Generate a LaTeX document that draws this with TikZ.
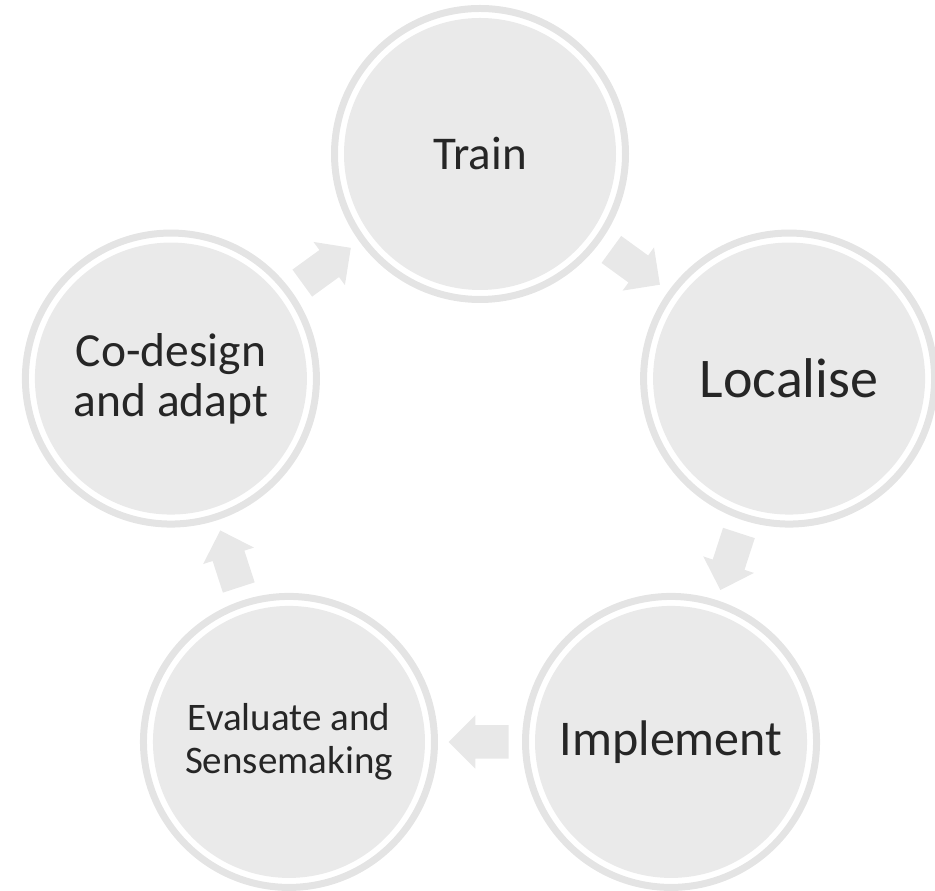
\documentclass[tikz,border=0pt]{standalone}
\usepackage{fontspec}
\setmainfont{Carlito}
\usepackage{tikz}
\usetikzlibrary{calc,shapes.arrows}
\definecolor{stagefill}{HTML}{EAEAEA}
\definecolor{ringgray}{HTML}{E4E4E4}
\definecolor{flowgray}{HTML}{E8E8E8}
\definecolor{labelgray}{HTML}{262626}

\begin{document}
\begin{tikzpicture}[x=1pt, y=1pt,
    stage/.style={circle, fill=stagefill, minimum size=272pt, inner sep=0pt,
      align=center, text=labelgray},
    ring/.style={draw=ringgray, line width=7pt},
    flow/.style={single arrow, fill=flowgray, draw=none, inner xsep=0pt,
      inner ysep=16.5pt, minimum height=60pt, single arrow head extend=10pt}]
    \useasboundingbox (0,0) rectangle (935,891);
    \coordinate (c) at (480,412);

    \node[stage, font=\fontsize{47}{51}\selectfont] (train)     at ($(c)+(90:325)$)   {Train};
    \node[stage, font=\fontsize{56}{60}\selectfont] (localise)  at ($(c)+(18:325)$)   {Localise};
    \node[stage, font=\fontsize{50}{54}\selectfont] (implement) at ($(c)+(-54:325)$)  {Implement};
    \node[stage, font=\fontsize{39}{43}\selectfont] (evaluate)  at ($(c)+(-126:325)$) {Evaluate and\\Sensemaking};
    \node[stage, font=\fontsize{47.5}{50}\selectfont] (codesign)  at ($(c)+(162:325)$)  {Co-design\\and adapt};

    \foreach \n in {train,localise,implement,evaluate,codesign}
      \draw[ring] (\n.center) circle[radius=145.5];

    \foreach \a/\b/\rot in {train/localise/-36, localise/implement/-108,
        implement/evaluate/180, evaluate/codesign/108, codesign/train/36}
      \node[flow, rotate=\rot, xshift=-7pt] at ($(\a)!0.5!(\b)$) {};
\end{tikzpicture}
\end{document}
